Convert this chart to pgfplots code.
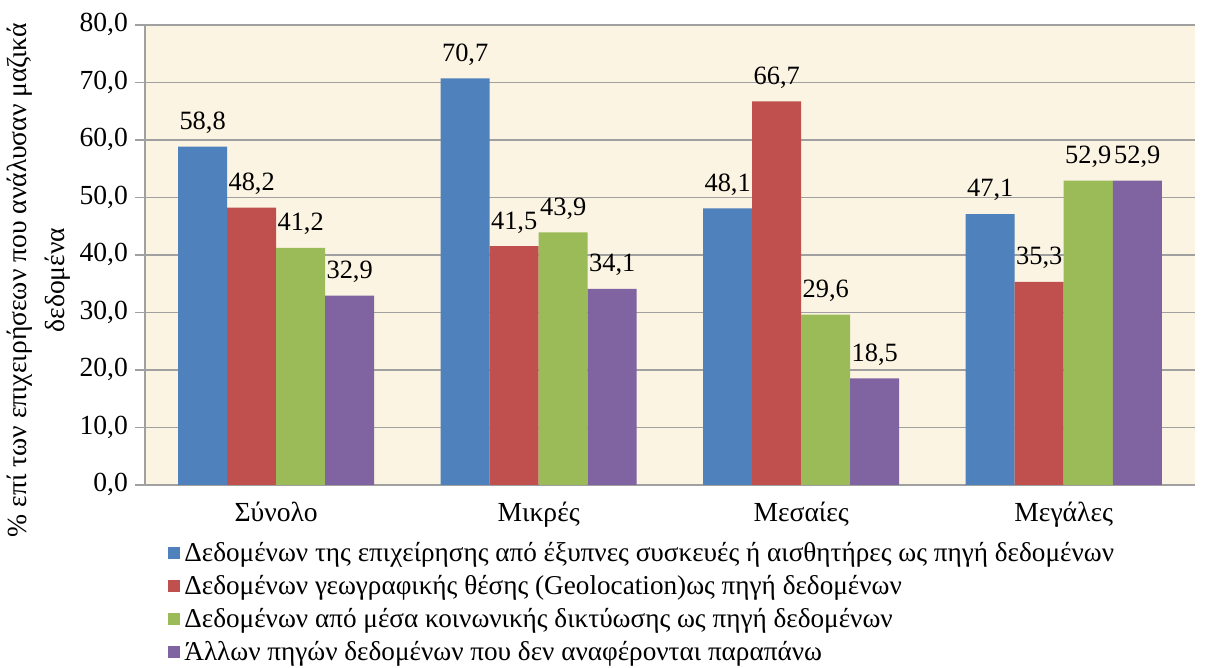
\documentclass[border=0pt]{standalone}
\usepackage{pgfplots}
\pgfplotsset{compat=1.18}
\usepackage{fontspec}
\setmainfont{Liberation Serif}
\newfontfamily\tnr{Liberation Serif}
\definecolor{cblue}{HTML}{4F81BD}
\definecolor{cred}{HTML}{C0504D}
\definecolor{cgreen}{HTML}{9BBB59}
\definecolor{cpurple}{HTML}{8064A2}
\definecolor{bgc}{HTML}{FCF4E2}
\definecolor{gridc}{HTML}{A0A0A0}
\pgfkeys{/pgf/number format/.cd, use comma, fixed, fixed zerofill, precision=1, assume math mode=true, 1000 sep={}}
\begin{document}
\begin{tikzpicture}
\begin{axis}[
  scale only axis,
  width=525pt, height=230pt,
  xmin=-0.5, xmax=3.5,
  ymin=0, ymax=80,
  ytick={0,10,...,80},
  xtick={0,1,2,3},
  xticklabels={Σύνολο,Μικρές,Μεσαίες,Μεγάλες},
  x tick style={draw=none},
  extra x ticks={-0.5,0.5,1.5,2.5,3.5},
  extra x tick labels={},
  extra x tick style={grid=none, tick style={draw=gridc, thick}, major tick length=5pt},
  tick align=outside,
  y tick style={draw=gridc, thick},
  major tick length=5pt,
  ymajorgrids, grid style={gridc, thick},
  axis x line*=bottom, axis y line*=left,
  axis line style={gridc, thick},
  axis background/.style={fill=bgc},
  font=\tnr\fontsize{13.5}{16}\selectfont,
  tick label style={font=\tnr\fontsize{13.8}{16}\selectfont},
  ylabel={\% επί των επιχειρήσεων που ανάλυσαν μαζικά\\δεδομένα},
  ylabel style={align=center, at={(axis description cs:-0.101,0.445)}, anchor=center, font=\tnr\fontsize{13.8}{19}\selectfont},
  ybar=0pt, bar width=0.1867,
  nodes near coords,
  every node near coord/.append style={anchor=south, yshift=3pt, font=\tnr\fontsize{13.2}{16}\selectfont, text=black},
  legend style={draw=none, fill=none, at={(axis description cs:0.022,-0.115)}, anchor=north west, font=\tnr\fontsize{13.6}{16}\selectfont, row sep=1.4pt, inner sep=0pt},
  legend cell align=left,
  legend image code/.code={\fill[#1] (0pt,-3pt) rectangle (6pt,3pt);},
  clip=false,
]
\addplot[fill=cblue, draw=none] coordinates {(0,58.8) (1,70.7) (2,48.1) (3,47.1)};
\addplot[fill=cred, draw=none] coordinates {(0,48.2) (1,41.5) (2,66.7) (3,35.3)};
\addplot[fill=cgreen, draw=none] coordinates {(0,41.2) (1,43.9) (2,29.6) (3,52.9)};
\addplot[fill=cpurple, draw=none] coordinates {(0,32.9) (1,34.1) (2,18.5) (3,52.9)};
\legend{Δεδομένων της επιχείρησης από έξυπνες συσκευές ή αισθητήρες ως πηγή δεδομένων,
Δεδομένων γεωγραφικής θέσης (Geolocation)ως πηγή δεδομένων,
Δεδομένων από μέσα κοινωνικής δικτύωσης ως πηγή δεδομένων,
Άλλων πηγών δεδομένων που δεν αναφέρονται παραπάνω}
\path (rel axis cs:-0.138,-0.376) rectangle (rel axis cs:1.0162,1.054);
\end{axis}
\end{tikzpicture}
\end{document}
